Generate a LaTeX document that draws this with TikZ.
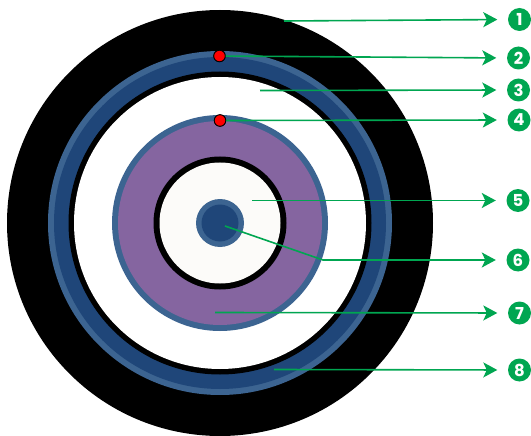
\documentclass[tikz,border=0pt]{standalone}
\usepackage{fontspec}
\setmainfont{Poppins}
\usetikzlibrary{arrows.meta}
\definecolor{gr}{HTML}{00A651}
\definecolor{dkblue}{HTML}{1F4679}
\definecolor{ltblue}{HTML}{3C6491}
\definecolor{purp}{HTML}{8565A0}
\definecolor{offw}{HTML}{FCFBF9}
\tikzset{
  disc/.style={circle,inner sep=0pt,minimum size=#1,draw=none},
  badge/.style={circle,fill=gr,text=white,inner sep=0pt,minimum size=23pt,font=\fontsize{16.5}{16.5}\selectfont\bfseries},
  reddot/.style={circle,fill=red,draw=black,line width=0.8pt,inner sep=0pt,minimum size=11.5pt},
  leader/.style={draw=gr,line width=1.6pt,shorten >=10.5pt,-{Stealth[length=14pt,width=15pt,inset=3.5pt]}},
}
\begin{document}
\begin{tikzpicture}[x=1pt,y=-1pt]
\useasboundingbox (0,0) rectangle (531,436);
\fill[white] (0,0) rectangle (531,436);
\coordinate (c) at (220,223);
\node[disc=426pt,fill=black] (outer) at (c) {};
\node[disc=344pt,fill=ltblue] (ringa) at (c) {};
\node[disc=332pt,fill=dkblue] (ringb) at (c) {};
\node[disc=303pt,fill=black] (ringc) at (c) {};
\node[disc=292pt,fill=white] (ringd) at (c) {};
\node[disc=216pt,fill=ltblue] (ringe) at (c) {};
\node[disc=204pt,fill=purp] (ringf) at (c) {};
\node[disc=133pt,fill=black] (ringg) at (c) {};
\node[disc=121pt,fill=offw] (ringh) at (c) {};
\node[disc=48pt,fill=ltblue] (ringi) at (c) {};
\node[disc=37pt,fill=dkblue] (ringj) at (c) {};
\node[badge] (b1) at (519.5,19.5) {1};
\node[badge] (b2) at (518.5,58) {2};
\node[badge] (b3) at (518.5,90) {3};
\node[badge] (b4) at (519,120) {4};
\node[badge] (b5) at (518,200.5) {5};
\node[badge] (b6) at (518,260) {6};
\node[badge] (b7) at (519.5,313) {7};
\node[badge] (b8) at (519.5,370) {8};
\coordinate (s1) at (284,21);
\coordinate (s3) at (260,90.5);
\coordinate (s5) at (252,200.5);
\coordinate (s6) at (225,226);
\coordinate (k6) at (323,260);
\coordinate (s7) at (215,312.5);
\coordinate (s8) at (274,369.5);
\node[reddot] (d2) at (219.5,56) {};
\node[reddot] (d4) at (220,120.5) {};
\path[leader] (s1) -- (b1.west);
\path[leader] (d2.center) -- (b2.west);
\path[leader] (s3) -- (b3.west);
\path[leader] (d4.center) -- (b4.west);
\path[leader] (s5) -- (b5.west);
\path[leader] (s6) -- (k6) -- (b6.west);
\path[leader] (s7) -- (b7.west);
\path[leader] (s8) -- (b8.west);
\node[reddot] at (d2) {};
\node[reddot] at (d4) {};
\end{tikzpicture}
\end{document}
